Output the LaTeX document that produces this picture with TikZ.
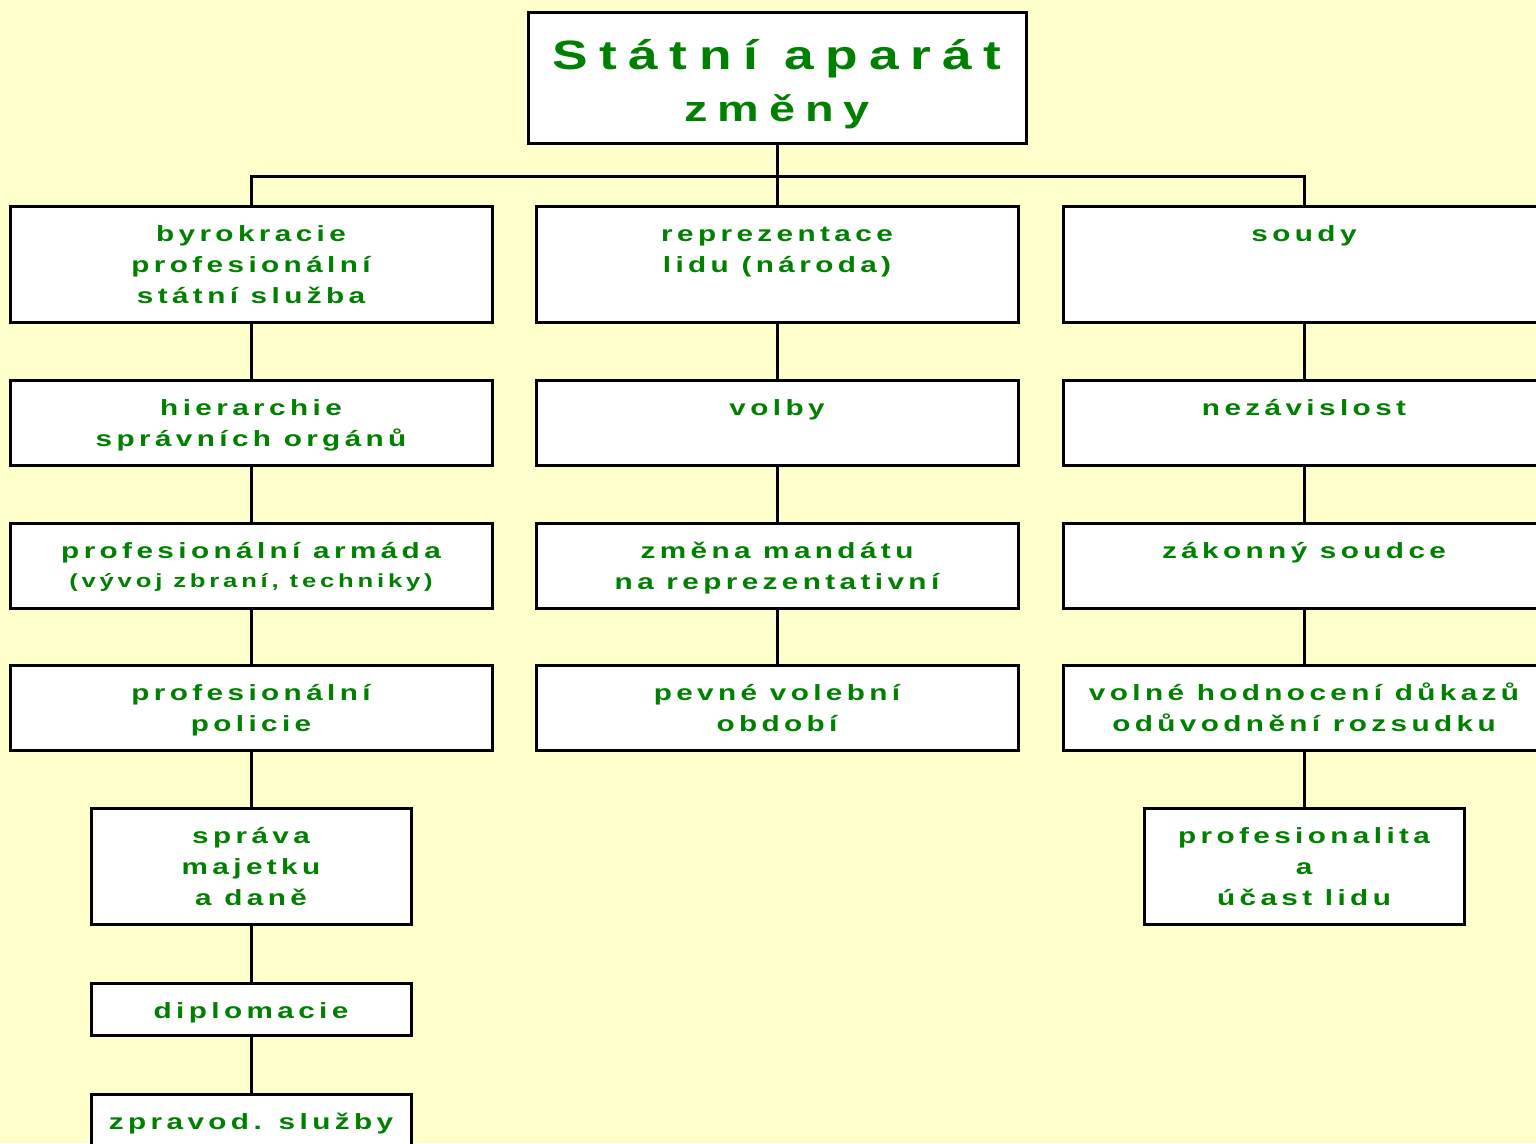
\documentclass[tikz,border=0pt]{standalone}
\usepackage{fontspec}
\newfontfamily\boxfont[FakeStretch=1.35, LetterSpace=20]{Liberation Sans Bold}
\newfontfamily\headfont[FakeStretch=1.3, LetterSpace=28]{Liberation Sans Bold}
\definecolor{paper}{HTML}{FFFFCC}
\definecolor{leaf}{HTML}{008000}

\tikzset{
  box/.style={draw, line width=3pt, fill=white, text=leaf, align=center,
    inner sep=0pt, anchor=north,
    font=\boxfont\fontsize{22}{31}\selectfont},
  wide/.style={minimum width=482pt},
  narrow/.style={minimum width=320pt},
  cell/.style 2 args={text height=#1pt, text depth=#2pt},
}

\begin{document}
\begin{tikzpicture}[x=1pt, y=-1pt]

      \fill[paper] (0,0) rectangle (1536,1143);
      \useasboundingbox (0,0) rectangle (1536,1143);

      \node[box, minimum width=498pt, cell={109}{22},
        font=\headfont\fontsize{41}{52}\selectfont] (head) at (777,11)
        {Státní aparát\\
         {\fontsize{36}{52}\selectfont změny}};

      \begin{scope}[every node/.style={box}]
        % left column
        \node[wide, cell={97}{19}]   (byro)   at (251,205)  {byrokracie\\profesionální\\státní služba};
        \node[wide, cell={66}{19}]   (hier)   at (251,379)  {hierarchie\\správních orgánů};
        \node[wide, cell={64}{21}]   (army)   at (251,522)  {profesionální armáda\\[-2pt]
                                                             {\fontsize{19}{29}\selectfont (vývoj zbraní, techniky)}};
        \node[wide, cell={66}{19}]   (police) at (251,664)  {profesionální\\policie};
        \node[narrow, cell={97}{19}] (estate) at (251,807)  {správa\\majetku\\a daně};
        \node[narrow, cell={35}{17}] (diplo)  at (251,982)  {diplomacie};
        \node[narrow, cell={35}{50}] (intel)  at (251,1093) {zpravod. služby};
        % middle column
        \node[wide, cell={66}{50}]   (repr)   at (777,205)  {reprezentace\\lidu (národa)};
        \node[wide, cell={35}{50}]   (vote)   at (777,379)  {volby};
        \node[wide, cell={66}{19}]   (mandate) at (777,522) {změna mandátu\\na reprezentativní};
        \node[wide, cell={66}{19}]   (term)   at (777,664)  {pevné volební\\období};
        % right column
        \node[wide, cell={35}{81}]   (court)  at (1304,205) {soudy};
        \node[wide, cell={35}{50}]   (indep)  at (1304,379) {nezávislost};
        \node[wide, cell={35}{50}]   (judge)  at (1304,522) {zákonný soudce};
        \node[wide, cell={66}{19}]   (proof)  at (1304,664) {volné hodnocení důkazů\\odůvodnění rozsudku};
        \node[narrow, cell={97}{19}] (people) at (1304,807) {profesionalita\\a\\účast lidu};
      \end{scope}

      \coordinate (split) at (777,176);

      \begin{scope}[every edge/.style={draw, line width=3pt}]
        \path (head)  edge (repr);
        \draw[line width=3pt] (byro.north) |- (split) -| (court.north);
        \path (byro)   edge (hier);
        \path (hier)   edge (army);
        \path (army)   edge (police);
        \path (police) edge (estate);
        \path (estate) edge (diplo);
        \path (diplo)  edge (intel);
        \path (repr)   edge (vote);
        \path (vote)   edge (mandate);
        \path (mandate) edge (term);
        \path (court)  edge (indep);
        \path (indep)  edge (judge);
        \path (judge)  edge (proof);
        \path (proof)  edge (people);
      \end{scope}

\end{tikzpicture}
\end{document}
